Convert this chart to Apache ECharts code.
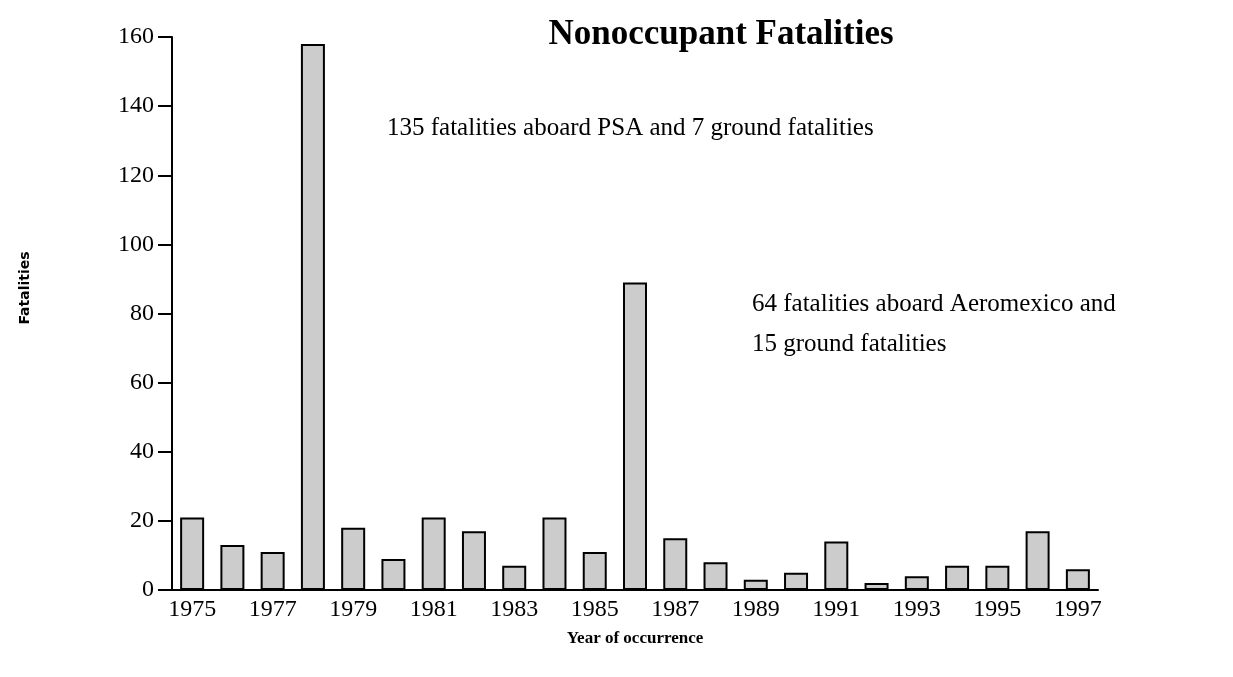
<!DOCTYPE html>
<html>
<head>
<meta charset="utf-8">
<script src="https://cdn.jsdelivr.net/npm/echarts@6/dist/echarts.min.js"></script>
<style>
  html, body { margin: 0; padding: 0; background: #fff; }
  #chart { width: 1233px; height: 677px; }
</style>
</head>
<body>
<div id="chart"></div>
<script>
// year categories and fatalities per year
const years = [
  "1975", "1976", "1977", "1978", "1979", "1980", "1981", "1982", "1983", "1984", "1985", "1986",
  "1987", "1988", "1989", "1990", "1991", "1992", "1993", "1994", "1995", "1996", "1997"
];
const fatalities = [21, 13, 11, 158, 18, 9, 21, 17, 7, 21, 11, 89, 15, 8, 3, 5, 14, 2, 4, 7, 7, 17, 6];

const serif = "Liberation Serif, Times New Roman, serif";

const chart = echarts.init(document.getElementById("chart"));

chart.setOption({
  animation: false,
  title: {
    text: "Nonoccupant Fatalities",
    left: 716,
    top: 12,
    textAlign: "center",
    textStyle: { fontFamily: serif, fontSize: 35, fontWeight: "bold", color: "#000" },
  },
  grid: {
    left: 172,
    top: 37,
    width: 926,
    bottom: 87,
    containLabel: false,
  },
  xAxis: {
    type: "category",
    data: years,
    name: "Year of occurrence",
    nameLocation: "middle",
    nameGap: 40,
    nameTextStyle: { fontFamily: serif, fontSize: 17, fontWeight: "bold", color: "#000" },
    axisLine: { lineStyle: { color: "#000", width: 2 } },
    axisTick: { show: false },
    axisLabel: {
      interval: 1,
      margin: 8,
      fontFamily: serif,
      fontSize: 24,
      color: "#000",
    },
  },
  yAxis: {
    type: "value",
    min: 0,
    max: 160,
    interval: 20,
    splitLine: { show: false },
    axisLine: { show: true, lineStyle: { color: "#000", width: 2 } },
    axisTick: { show: true, length: 14, lineStyle: { color: "#000", width: 2 } },
    axisLabel: { margin: 18, fontFamily: serif, fontSize: 24, color: "#000" },
  },
  series: [
    {
      type: "bar",
      data: fatalities,
      barWidth: 24,
      itemStyle: { color: "#cccccc", borderColor: "#000", borderWidth: 2 },
    },
  ],
  graphic: [
    {
      type: "text",
      x: 25,
      y: 288,
      rotation: Math.PI / 2,
      style: {
        text: "Fatalities",
        font: "bold 14px DejaVu Sans, Arial, sans-serif",
        fill: "#000",
        align: "center",
        verticalAlign: "middle",
      },
    },
    {
      type: "text",
      left: 387,
      top: 116,
      style: {
        text: "135 fatalities aboard PSA and 7 ground fatalities",
        font: "25px " + serif,
        fill: "#000",
      },
    },
    {
      type: "text",
      left: 752,
      top: 292,
      style: {
        text: "64 fatalities aboard Aeromexico and",
        font: "25px " + serif,
        fill: "#000",
      },
    },
    {
      type: "text",
      left: 752,
      top: 332,
      style: {
        text: "15 ground fatalities",
        font: "25px " + serif,
        fill: "#000",
      },
    },
  ],
});
</script>
</body>
</html>
